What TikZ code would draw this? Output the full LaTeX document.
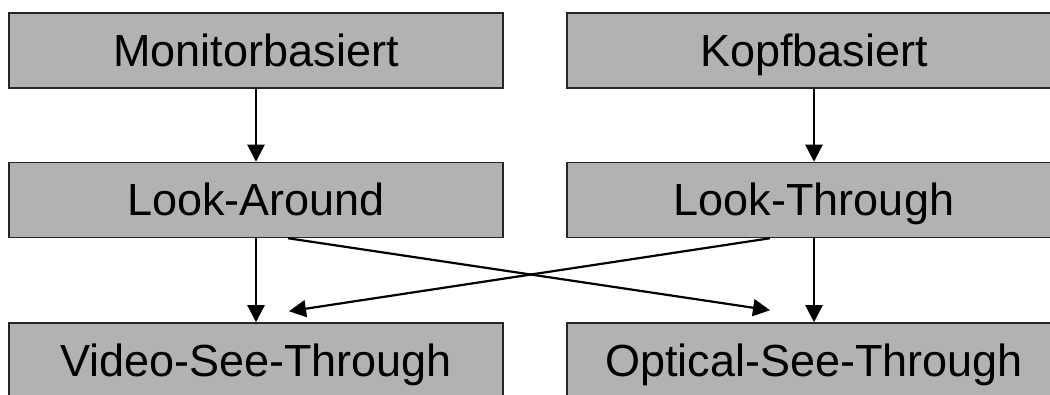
\documentclass[tikz,border=0pt]{standalone}
\usepackage{fontspec}
\setmainfont{Liberation Sans}
\usetikzlibrary{arrows.meta}
\begin{document}
\begin{tikzpicture}
    [x=1pt, y=-1pt,
     box/.style={draw=black!85, line width=1.5pt, fill=black!30,
       minimum width=494pt, minimum height=75pt, inner sep=0pt,
       text height=32pt, text depth=0pt,
       font=\fontsize{45}{54}\selectfont},
     arr/.style={line width=2.2pt, -{Triangle[length=17pt,width=17pt]}}]
    \useasboundingbox (0,0) rectangle (1050,395);
    \clip (0,0) rectangle (1050,395);
    \node[box] (mon) at (256,50.5) {Monitorbasiert};
    \node[box] (kopf) at (814,50.5) {Kopfbasiert};
    \node[box] (la) at (256,200) {Look-Around};
    \node[box] (lt) at (814,200) {Look-Through};
    \node[box] (vst) at (256,360.5) {Video-See-Through};
    \node[box] (ost) at (814,360.5) {Optical-See-Through};
    \draw[arr] (mon) -- (la);
    \draw[arr] (kopf) -- (lt);
    \draw[arr] (la) -- (vst);
    \draw[arr] (lt) -- (ost);
    \draw[arr] ([xshift=32pt]la.south) -- ([xshift=-44pt,yshift=12pt]ost.north);
    \draw[arr] ([xshift=-44pt]lt.south) -- ([xshift=33pt,yshift=11pt]vst.north);
\end{tikzpicture}
\end{document}
